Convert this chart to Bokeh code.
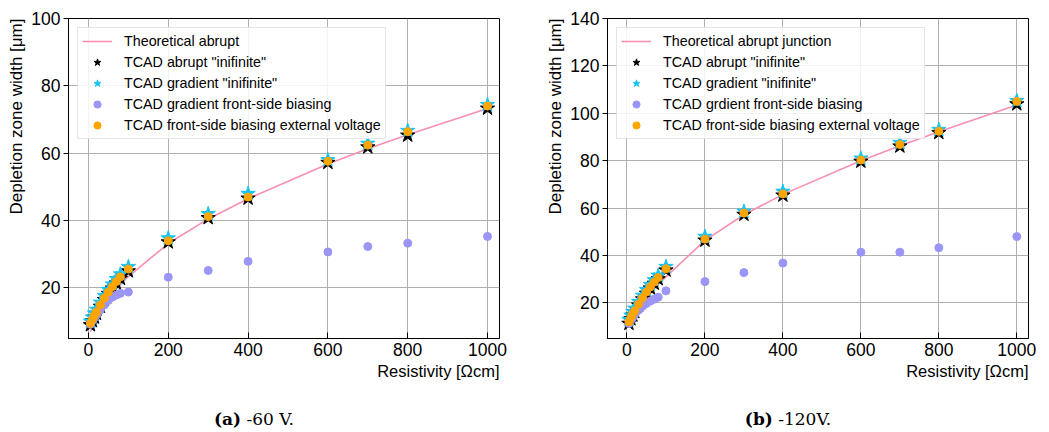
from bokeh.plotting import figure
from bokeh.models import Title, Div, Legend, LegendItem, FixedTicker, Range1d
from bokeh.layouts import row, column
from bokeh.embed import file_html
from bokeh.resources import INLINE

# ---------------- data ----------------
res = [5, 10, 15, 20, 30, 40, 50, 60, 70, 80, 100, 200, 300, 400, 600, 700, 800, 1000]

# (a) -60 V
a_theory = [7.0, 8.5, 9.8, 11.0, 13.2, 15.1, 16.8, 18.3, 19.7, 21.0, 23.4, 33.2, 40.5, 46.5, 56.8, 61.3, 65.5, 73.3]
a_abrupt = [9.0, 10.2, 11.3, 12.4, 14.5, 16.5, 18.3, 19.9, 21.4, 22.8, 25.0, 33.6, 40.8, 46.6, 57.2, 61.8, 65.3, 73.3]
a_gradient = [10.1, 11.3, 12.5, 13.6, 15.7, 17.7, 19.5, 21.1, 22.7, 24.1, 26.3, 34.8, 42.0, 48.0, 58.0, 62.9, 66.7, 74.4]
a_front = [9.2, 10.3, 11.2, 12.0, 13.5, 15.0, 16.3, 17.3, 17.9, 18.4, 18.8, 23.2, 25.2, 27.9, 30.7, 32.3, 33.3, 35.3]
a_ext = [9.5, 10.7, 11.8, 12.9, 15.0, 17.0, 18.8, 20.4, 21.9, 23.3, 25.6, 34.0, 41.2, 47.0, 57.6, 62.4, 66.4, 74.0]

# (b) -120 V
b_theory = [9.5, 11.5, 13.2, 14.8, 17.6, 20.0, 22.2, 24.2, 26.0, 27.8, 31.0, 46.4, 57.2, 65.8, 80.0, 86.3, 92.2, 103.5]
b_abrupt = [11.3, 13.2, 14.8, 16.2, 19.0, 21.6, 24.0, 26.2, 28.2, 30.1, 33.8, 46.4, 57.3, 65.4, 79.7, 86.1, 91.8, 103.9]
b_gradient = [12.9, 14.7, 16.3, 17.7, 20.5, 23.1, 25.5, 27.7, 29.7, 31.6, 35.3, 48.0, 58.6, 67.0, 81.0, 87.6, 93.1, 105.3]
b_front = [11.3, 12.8, 14.0, 15.2, 17.0, 18.6, 19.8, 20.8, 21.6, 22.4, 25.1, 29.0, 32.8, 36.8, 41.4, 41.4, 43.3, 48.0]
b_ext = [12.0, 13.8, 15.4, 16.8, 19.6, 22.2, 24.6, 26.8, 28.8, 30.7, 34.4, 46.9, 57.9, 66.0, 80.3, 86.8, 92.4, 105.0]

x_ticks = [0, 200, 400, 600, 800, 1000]
a_yticks = [20, 40, 60, 80, 100]
b_yticks = [20, 40, 60, 80, 100, 120, 140]

a_labels = ["Theoretical abrupt", 'TCAD abrupt "inifinite"', 'TCAD gradient "inifinite"',
            "TCAD gradient front-side biasing", "TCAD front-side biasing external voltage"]
b_labels = ["Theoretical abrupt junction", 'TCAD abrupt "inifinite"', 'TCAD gradient "inifinite"',
            "TCAD grdient front-side biasing", "TCAD front-side biasing external voltage"]

PINK = "#f98fb2"
CYAN = "#16c3f5"
PURPLE = "#9a95f7"
ORANGE = "#ffa500"
FONT = "Liberation Sans"


def make_plot(theory, abrupt, gradient, front, ext, labels, ymax, yticks, width, bl, br):
    p = figure(width=width, height=382, output_backend="svg", toolbar_location=None,
               x_range=Range1d(-50, 1030), y_range=Range1d(5, ymax),
               min_border_left=bl, min_border_right=br, min_border_top=18, min_border_bottom=44)
    p.outline_line_color = "black"
    p.outline_line_width = 1
    p.background_fill_color = "white"
    p.border_fill_color = "white"

    p.xaxis.ticker = FixedTicker(ticks=x_ticks)
    p.yaxis.ticker = FixedTicker(ticks=yticks)
    for ax in (p.xaxis[0], p.yaxis[0]):
        ax.axis_line_color = "black"
        ax.major_label_text_font = FONT
        ax.major_label_text_font_size = "17.5px"
        ax.major_label_text_color = "black"
        ax.minor_tick_line_color = None
        ax.major_tick_line_color = "black"
    p.xaxis.major_tick_in = 6
    p.xaxis.major_tick_out = 0
    p.xaxis.major_label_standoff = 4
    p.yaxis.major_tick_in = 0
    p.yaxis.major_tick_out = 5
    p.yaxis.major_label_standoff = 3

    p.add_layout(Title(text="Depletion zone width [μm]", align="right", text_font=FONT,
                       text_font_size="17px", text_font_style="normal", text_color="black",
                       standoff=6), "left")
    p.add_layout(Title(text="Resistivity [Ωcm]", align="right", text_font=FONT,
                       text_font_size="16.5px", text_font_style="normal", text_color="black",
                       standoff=3), "below")

    p.xgrid.grid_line_color = "#b0b0b0"
    p.ygrid.grid_line_color = "#b0b0b0"
    p.xgrid.grid_line_width = 1
    p.ygrid.grid_line_width = 1

    r0 = p.line(res, theory, line_color=PINK, line_width=1.6)
    r1 = p.scatter(res, abrupt, marker="star", size=15, fill_color="black", line_color="black")
    r2 = p.scatter(res, gradient, marker="star", size=15, fill_color=CYAN, line_color=CYAN)
    r3 = p.scatter(res, front, marker="circle", size=8, fill_color=PURPLE, line_color=PURPLE)
    r4 = p.scatter(res, ext, marker="circle", size=8, fill_color=ORANGE, line_color=ORANGE)

    items = [LegendItem(label=l, renderers=[r]) for l, r in zip(labels, [r0, r1, r2, r3, r4])]
    leg = Legend(items=items, location="top_left", margin=9, padding=4, spacing=3,
                 label_text_font=FONT, label_text_font_size="14.3px", label_height=18,
                 label_text_color="black",
                 glyph_height=18, glyph_width=30, label_standoff=12,
                 border_line_color="#cccccc", border_line_width=1,
                 background_fill_color="white", background_fill_alpha=0.85)
    p.add_layout(leg)
    return p


p1 = make_plot(a_theory, a_abrupt, a_gradient, a_front, a_ext, a_labels, 100, a_yticks, 540, 68, 41)
p2 = make_plot(b_theory, b_abrupt, b_gradient, b_front, b_ext, b_labels, 140, b_yticks, 497, 62, 9)

cap_style = ("font-family:'DejaVu Serif'; font-size:17px; color:black; text-align:center; "
             "padding-top:25px; width:%dpx;")
d1 = Div(text="<div style=\"%s\"><b>(a)</b>&nbsp;-60 V.</div>" % (cap_style % 508), width=508, height=44,
         margin=(0, 0, 0, 0))
d2 = Div(text="<div style=\"%s\"><b>(b)</b>&nbsp;-120V.</div>" % (cap_style % 496), width=496, height=44,
         margin=(0, 0, 0, 0))

layout = row(column(p1, d1, spacing=0), column(p2, d2, spacing=0), spacing=0)

open("out.html", "w").write(file_html(layout, INLINE))
